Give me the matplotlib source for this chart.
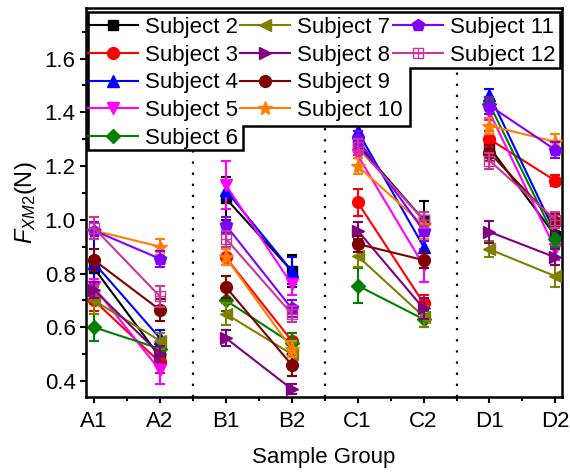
import matplotlib
matplotlib.use('Agg')
import matplotlib.pyplot as plt
from matplotlib.lines import Line2D
from matplotlib.path import Path
from matplotlib.patches import Polygon

plt.rcParams['font.family'] = ['Liberation Sans', 'DejaVu Sans']
plt.rcParams['mathtext.fontset'] = 'custom'
plt.rcParams['mathtext.rm'] = 'Liberation Sans'
plt.rcParams['mathtext.it'] = 'Liberation Sans:italic'

groups = ['A1', 'A2', 'B1', 'B2', 'C1', 'C2', 'D1', 'D2']

s2 = [0.82, 0.49, 1.08, 0.81, 1.28, 1.00, 1.27, 0.94]
s3 = [0.70, 0.47, 0.86, 0.55, 1.065, 0.69, 1.30, 1.145]
s4 = [0.84, 0.56, 1.11, 0.81, 1.33, 0.90, 1.465, 0.95]
s5 = [0.75, 0.44, 1.13, 0.76, 1.24, 0.83, 1.40, 0.89]
s6 = [0.60, 0.52, 0.70, 0.54, 0.755, 0.63, 1.43, 0.93]
s7 = [0.70, 0.55, 0.65, 0.50, 0.865, 0.64, 0.89, 0.79]
s8 = [0.74, 0.50, 0.56, 0.37, 0.96, 0.67, 0.955, 0.86]
s9 = [0.85, 0.665, 0.75, 0.46, 0.91, 0.85, 1.25, 0.99]
s10 = [0.96, 0.90, 0.86, 0.52, 1.20, 0.98, 1.35, 1.29]
s11 = [0.96, 0.855, 0.98, 0.67, 1.30, 0.96, 1.425, 1.26]
s12 = [0.97, 0.715, 0.93, 0.65, 1.27, 1.00, 1.22, 1.00]

s2_err = [0.04, 0.03, 0.08, 0.06, 0.05, 0.07, 0.08, 0.04]
s3_err = [0.04, 0.04, 0.03, 0.03, 0.05, 0.03, 0.03, 0.02]
s4_err = [0.12, 0.03, 0.03, 0.05, 0.03, 0.04, 0.02, 0.03]
s5_err = [0.03, 0.05, 0.09, 0.04, 0.04, 0.06, 0.03, 0.04]
s6_err = [0.05, 0.03, 0.04, 0.04, 0.065, 0.03, 0.02, 0.03]
s7_err = [0.05, 0.03, 0.04, 0.04, 0.04, 0.04, 0.03, 0.04]
s8_err = [0.03, 0.03, 0.03, 0.02, 0.03, 0.04, 0.04, 0.03]
s9_err = [0.04, 0.04, 0.04, 0.04, 0.03, 0.03, 0.03, 0.03]
s10_err = [0.03, 0.03, 0.03, 0.03, 0.03, 0.05, 0.03, 0.03]
s11_err = [0.03, 0.03, 0.03, 0.03, 0.03, 0.04, 0.03, 0.03]
s12_err = [0.04, 0.04, 0.03, 0.03, 0.03, 0.03, 0.03, 0.03]

labels = ['Subject 2', 'Subject 3', 'Subject 4', 'Subject 5', 'Subject 6', 'Subject 7',
          'Subject 8', 'Subject 9', 'Subject 10', 'Subject 11', 'Subject 12']

# square with a cross inside, drawn open
box_plus = Path([(-1, -1), (1, -1), (1, 1), (-1, 1), (-1, -1),
                 (0, -1), (0, 1), (-1, 0), (1, 0)],
                [Path.MOVETO, Path.LINETO, Path.LINETO, Path.LINETO, Path.CLOSEPOLY,
                 Path.MOVETO, Path.LINETO, Path.MOVETO, Path.LINETO])

series = [
    (s2, s2_err, '#000000', 's', 7),
    (s3, s3_err, '#FF0000', 'o', 8.5),
    (s4, s4_err, '#0000FF', '^', 9),
    (s5, s5_err, '#FF00FF', 'v', 9),
    (s6, s6_err, '#008000', 'D', 7),
    (s7, s7_err, '#808000', '<', 9),
    (s8, s8_err, '#800080', '>', 9),
    (s9, s9_err, '#800000', 'o', 8.5),
    (s10, s10_err, '#FF8000', '*', 10),
    (s11, s11_err, '#8000FF', 'p', 9),
    (s12, s12_err, '#C8379A', box_plus, 7.5),
]

fig = plt.figure(figsize=(5.7, 4.72), dpi=100)
ax = fig.add_axes([86 / 570, 75 / 472, 476 / 570, 389 / 472])

x = list(range(len(groups)))
for k, (vals, errs, col, mk, ms) in enumerate(series):
    face = 'none' if mk is box_plus else col
    for p in range(0, len(groups), 2):
        ax.errorbar(x[p:p + 2], vals[p:p + 2], yerr=errs[p:p + 2], color=col,
                    marker=mk, ms=ms, mfc=face, mec=col, lw=1.5, elinewidth=1.5,
                    capsize=3.5, capthick=1.5, zorder=2 + k * 0.1)

for xv in [1.5, 3.5, 5.5]:
    ax.axvline(xv, color='black', lw=1.6, ls=(0, (1, 4)), zorder=1)

ax.set_xlim(-0.12, 7.1)
ax.set_ylim(0.3405, 1.788)
ax.set_xticks(x)
ax.set_xticklabels(groups)
ax.set_xticks([v + 0.5 for v in x[:-1]], minor=True)
ax.set_yticks([0.4, 0.6, 0.8, 1.0, 1.2, 1.4, 1.6])
ax.set_yticks([0.5, 0.7, 0.9, 1.1, 1.3, 1.5, 1.7], minor=True)
ax.tick_params(which='both', direction='out', width=1.5, labelsize=16, top=False, right=False)
ax.tick_params(which='major', length=4)
ax.tick_params(which='minor', length=3)
ax.tick_params(axis='x', pad=6)
for sp in ax.spines.values():
    sp.set_linewidth(1.8)

ax.set_xlabel('Sample Group', fontsize=16, labelpad=11)
ax.set_ylabel(r'$F_{XM2}$(N)', fontsize=17, labelpad=4)

# legend: three columns placed by hand, inside one stepped frame
handles = [Line2D([], [], color=c, marker=m, ms=ms, mfc=('none' if m is box_plus else c),
                  mec=c, lw=1.5) for (_, _, c, m, ms) in series]
cols = [(0, 5, 88), (5, 9, 240), (9, 11, 393)]
for a, b, px in cols:
    leg = fig.legend(handles[a:b], labels[a:b], loc='upper left',
                     bbox_to_anchor=(px / 570, 1 - 17 / 472), bbox_transform=fig.transFigure,
                     frameon=False, fontsize=16, handlelength=2.25, handletextpad=0.3,
                     labelspacing=0.3, borderpad=0, borderaxespad=0)
    leg.set_zorder(6)

step = [(88, 12), (560, 12), (560, 68), (410, 68), (410, 126), (243, 126), (243, 150), (88, 150)]
frame = Polygon([(px / 570, 1 - py / 472) for px, py in step], closed=True,
                transform=fig.transFigure, facecolor='white', edgecolor='black', lw=1.8, zorder=5)
fig.patches.append(frame)

fig.savefig('out.png', dpi=100)
